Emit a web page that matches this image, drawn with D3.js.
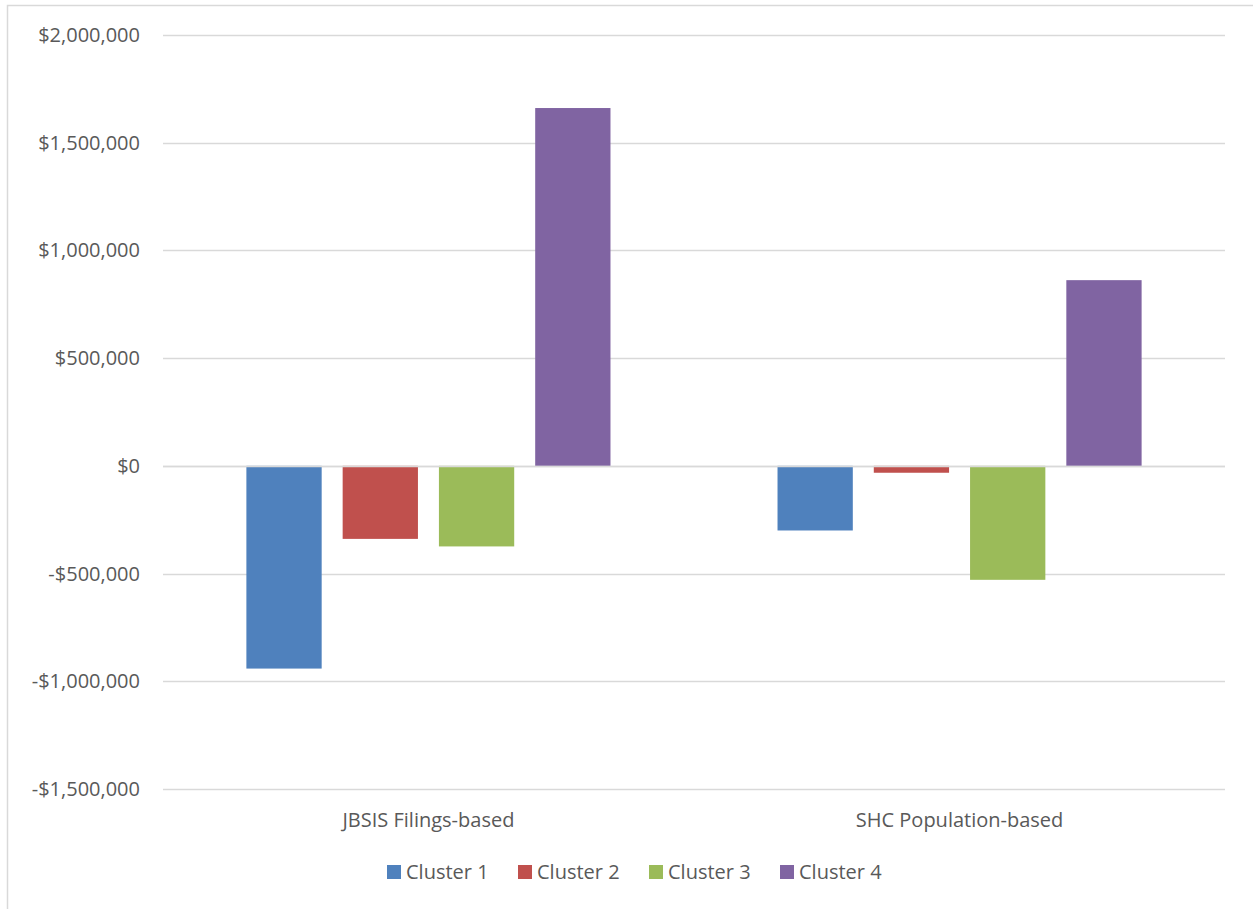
<!DOCTYPE html>
<html>
<head>
<meta charset="utf-8">
<script src="https://cdn.jsdelivr.net/npm/d3@7"></script>
<style>
  body { margin: 0; background: #fff; }
  text { font-family: "Open Sans", "Noto Sans", sans-serif; fill: #595959; }
</style>
</head>
<body>
<svg id="chart" width="1253" height="909"></svg>
<script>
// data
const categories = ["JBSIS Filings-based", "SHC Population-based"];
const seriesNames = ["Cluster 1", "Cluster 2", "Cluster 3", "Cluster 4"];
const cluster1 = [-941000, -300000];
const cluster2 = [-339000, -32000];
const cluster3 = [-374000, -529000];
const cluster4 = [1661000, 862000];
const yTicks = [-1500000, -1000000, -500000, 0, 500000, 1000000, 1500000, 2000000];
const colors = ["#4F81BD", "#C0504D", "#9BBB59", "#8064A2"];

const seriesValues = [cluster1, cluster2, cluster3, cluster4];

const svg = d3.select("#chart");

// chart border
svg.append("rect")
  .attr("x", 7.5).attr("y", 5.5)
  .attr("width", 1260).attr("height", 920)
  .attr("fill", "none")
  .attr("stroke", "#d9d9d9")
  .attr("stroke-width", 1.5);

const plot = { left: 163, right: 1225, top: 35, bottom: 789 };

const y = d3.scaleLinear()
  .domain([-1500000, 2000000])
  .range([plot.bottom, plot.top]);

const x0 = d3.scaleBand()
  .domain(categories)
  .range([plot.left, plot.right])
  .paddingInner(0.3145)
  .paddingOuter(0.157);

const x1 = d3.scaleBand()
  .domain(seriesNames)
  .range([0, x0.bandwidth()])
  .paddingInner(0.218);

// gridlines
svg.append("g")
  .selectAll("line")
  .data(yTicks)
  .join("line")
  .attr("x1", plot.left).attr("x2", plot.right)
  .attr("y1", d => Math.round(y(d)) + 0.5)
  .attr("y2", d => Math.round(y(d)) + 0.5)
  .attr("stroke", "#d9d9d9")
  .attr("stroke-width", 1.5);

// y tick labels
const fmt = d => (d < 0 ? "-$" : "$") + d3.format(",")(Math.abs(d));
svg.append("g")
  .selectAll("text")
  .data(yTicks)
  .join("text")
  .attr("x", 140)
  .attr("y", d => y(d))
  .attr("dy", "0.35em")
  .attr("text-anchor", "end")
  .attr("font-size", 20)
  .text(fmt);

// bars
const bars = [];
categories.forEach((c, ci) => {
  seriesNames.forEach((s, si) => {
    bars.push({ cat: c, series: s, value: seriesValues[si][ci], color: colors[si] });
  });
});

svg.append("g")
  .selectAll("rect")
  .data(bars)
  .join("rect")
  .attr("x", d => x0(d.cat) + x1(d.series))
  .attr("width", x1.bandwidth())
  .attr("y", d => y(Math.max(0, d.value)))
  .attr("height", d => Math.abs(y(d.value) - y(0)))
  .attr("fill", d => d.color);

// zero line on top
svg.append("line")
  .attr("x1", plot.left).attr("x2", plot.right)
  .attr("y1", Math.round(y(0)) + 0.5).attr("y2", Math.round(y(0)) + 0.5)
  .attr("stroke", "#d9d9d9")
  .attr("stroke-width", 1.5);

// category labels
svg.append("g")
  .selectAll("text")
  .data(categories)
  .join("text")
  .attr("x", d => x0(d) + x0.bandwidth() / 2)
  .attr("y", 820)
  .attr("dy", "0.35em")
  .attr("text-anchor", "middle")
  .attr("font-size", 20)
  .text(d => d);

// legend
const legendX = [387, 518, 649, 780];
const legend = svg.append("g")
  .selectAll("g")
  .data(seriesNames)
  .join("g")
  .attr("transform", (d, i) => `translate(${legendX[i]}, 872)`);

legend.append("rect")
  .attr("x", 0).attr("y", -7)
  .attr("width", 14).attr("height", 14)
  .attr("fill", (d, i) => colors[i]);

legend.append("text")
  .attr("x", 19)
  .attr("y", 0)
  .attr("dy", "0.35em")
  .attr("font-size", 20)
  .text(d => d);
</script>
</body>
</html>
